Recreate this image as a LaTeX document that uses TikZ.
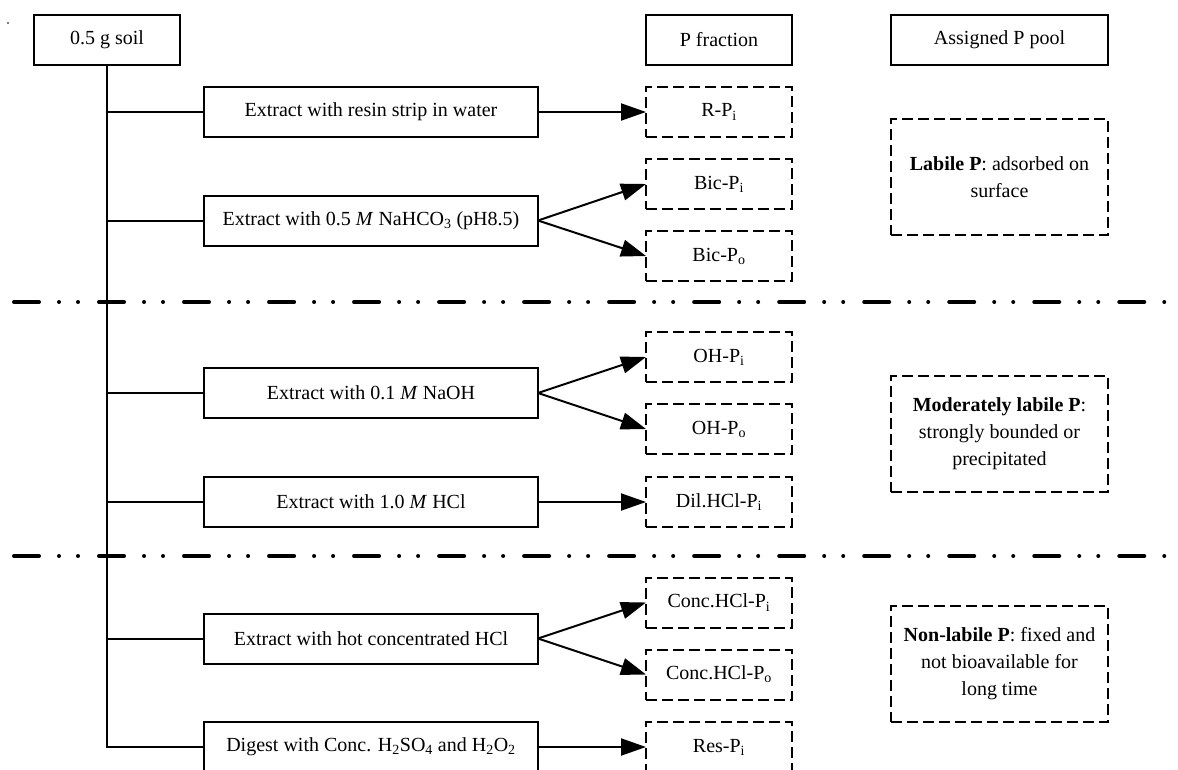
\documentclass[tikz,border=0pt]{standalone}
\usepackage{fontspec}
\setmainfont{Liberation Serif}
\usetikzlibrary{arrows.meta}
\begin{document}
\begin{tikzpicture}[x=1pt,y=-1pt,
  every node/.style={font=\fontsize{20}{27}\selectfont, inner sep=0pt, outer sep=0pt, align=center},
  solidbox/.style={draw, line width=2pt, minimum height=50pt},
  fracbox/.style={draw, line width=2pt, dash pattern=on 11pt off 5pt, minimum width=146pt, minimum height=50pt},
  poolbox/.style={draw, line width=2pt, dash pattern=on 11pt off 5pt, minimum width=217pt, minimum height=116pt},
  stepbox/.style={solidbox, minimum width=334pt},
  link/.style={line width=2pt},
  arr/.style={line width=2pt, -{Triangle[length=25pt,width=17pt]}},
  sep/.style={line width=4pt, line cap=round, dash pattern=on 25pt off 20pt on 0.01pt off 19pt on 0.01pt off 21pt}
]
\useasboundingbox (0,0) rectangle (1178,769);
\clip (0,0) rectangle (1178,769);

% headers
\node[solidbox, minimum width=146pt] (soil) at (107,39.5) {0.5 g soil};
\node[solidbox, minimum width=146pt] (pfrac) at (719,39.5) {P fraction};
\node[solidbox, minimum width=217pt] (pool) at (999.5,39.5) {Assigned P pool};

% extraction steps
\node[stepbox] (resin) at (371,112) {Extract with resin strip in water};
\node[stepbox] (bic) at (371,220.5) {Extract with 0.5 \textit{M} NaHCO\textsubscript{3} (pH8.5)};
\node[stepbox] (naoh) at (371,393) {Extract with 0.1 \textit{M} NaOH};
\node[stepbox] (hcl) at (371,502) {Extract with 1.0 \textit{M} HCl};
\node[stepbox] (hot) at (371,638.5) {Extract with hot concentrated HCl};
\node[stepbox] (dig) at (371,747) {Digest with Conc. H\textsubscript{2}SO\textsubscript{4} and H\textsubscript{2}O\textsubscript{2}};

% fractions
\node[fracbox] (rpi) at (719,112) {R-P\textsubscript{i}};
\node[fracbox] (bicpi) at (719,184) {Bic-P\textsubscript{i}};
\node[fracbox] (bicpo) at (719,256) {Bic-P\textsubscript{o}};
\node[fracbox] (ohpi) at (719,357) {OH-P\textsubscript{i}};
\node[fracbox] (ohpo) at (719,429) {OH-P\textsubscript{o}};
\node[fracbox] (dilpi) at (719,502) {Dil.HCl-P\textsubscript{i}};
\node[fracbox] (concpi) at (719,602.5) {Conc.HCl-P\textsubscript{i}};
\node[fracbox] (concpo) at (719,674.5) {Conc.HCl-P\textsubscript{o}};
\node[fracbox] (respi) at (719,747) {Res-P\textsubscript{i}};

% pools
\node[poolbox] (labile) at (999.5,177) {\textbf{Labile P}: adsorbed on\\surface};
\node[poolbox] (moder) at (999.5,434) {\textbf{Moderately labile P}:\\strongly bounded or\\precipitated};
\node[poolbox] (nonlab) at (999.5,664) {\textbf{Non-labile P}: fixed and\\not bioavailable for\\long time};

% trunk and branches
\draw[link] (soil.south) -- (soil.south |- dig.west) -- (dig.west);
\foreach \b in {resin,bic,naoh,hcl,hot}
  \draw[link] (soil.south |- \b.west) -- (\b.west);

% arrows
\draw[arr] (resin.east) -- (rpi.west);
\draw[arr] (bic.east) -- (bicpi.west);
\draw[arr] (bic.east) -- (bicpo.west);
\draw[arr] (naoh.east) -- (ohpi.west);
\draw[arr] (naoh.east) -- (ohpo.west);
\draw[arr] (hcl.east) -- (dilpi.west);
\draw[arr] (hot.east) -- (concpi.west);
\draw[arr] (hot.east) -- (concpo.west);
\draw[arr] (dig.east) -- (respi.west);

% separators
\draw[sep] (14,302) -- (1178,302);
\draw[sep] (14,556) -- (1178,556);

% tiny mark
\fill (8,23) circle (0.8pt);
\end{tikzpicture}
\end{document}
